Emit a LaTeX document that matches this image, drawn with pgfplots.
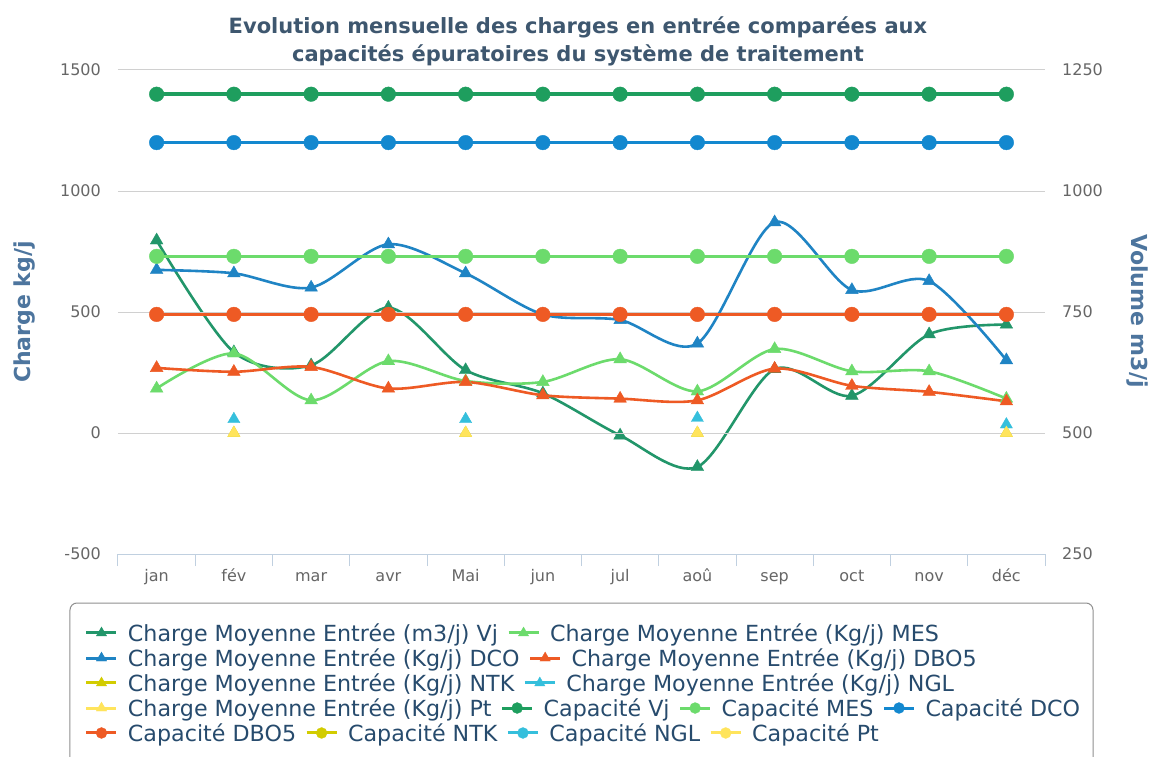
\documentclass[border=0pt]{standalone}
\usepackage{fontspec}
\setmainfont{DejaVu Sans}
\usepackage{pgfplots}
\usepackage{pgfplotstable}
\pgfplotsset{compat=1.18}

\definecolor{cVj}{HTML}{22966A}
\definecolor{cCapVj}{HTML}{1E9E5E}
\definecolor{cMES}{HTML}{6CDB6C}
\definecolor{cDCO}{HTML}{1F84C4}
\definecolor{cCapDCO}{HTML}{1388CF}
\definecolor{cDBO}{HTML}{EE5A24}
\definecolor{cNTK}{HTML}{D2CC00}
\definecolor{cNGL}{HTML}{35BFDC}
\definecolor{cPt}{HTML}{FFE45C}
\definecolor{cTitle}{HTML}{3E576F}
\definecolor{cAxTitle}{HTML}{4D759E}
\definecolor{cTick}{HTML}{666666}
\definecolor{cLeg}{HTML}{274B6D}
\definecolor{cGrid}{HTML}{D0D0D0}
\definecolor{cAxis}{HTML}{C0D0E0}
\definecolor{cBorder}{HTML}{909090}

% Volume (m3/j), right axis
\pgfplotstableread{
x vj capvj
0 898 1200
1 667 1200
2 640 1200
3 759 1200
4 630 1200
5 582 1200
6 495 1200
7 430 1200
8 632 1200
9 577 1200
10 704 1200
11 724 1200
}\tabVol

% Charges (kg/j), left axis
\pgfplotstableread{
x mes dco dbo capmes capdco capdbo
0 184 674 269 730 1200 490
1 329 660 253 730 1200 490
2 135 601 273 730 1200 490
3 297 780 184 730 1200 490
4 215 660 211 730 1200 490
5 211 490 156 730 1200 490
6 305 467 142 730 1200 490
7 172 370 135 730 1200 490
8 347 871 266 730 1200 490
9 255 591 195 730 1200 490
10 255 628 170 730 1200 490
11 142 301 131 730 1200 490
}\tabKg

\pgfplotsset{
  base/.style={scale only axis, width=927pt, height=484pt, xmin=-0.5, xmax=11.5, clip=false},
  charge/.style={line width=2.6pt, smooth, tension=0.5, mark=triangle*, mark size=7.3pt, mark options={solid, line width=0.4pt}},
  capa/.style={line width=3.4pt, mark=*, mark size=7.3pt, mark options={solid, line width=0.4pt}},
  legaxis/.style={hide axis, scale only axis, width=927pt, height=484pt, xmin=0, xmax=1, ymin=0, ymax=1,
    legend columns=-1,
    legend style={anchor=west, draw=none, fill=none, inner sep=0pt, outer sep=0pt,
      font=\color{cLeg}\fontsize{22.2}{25}\selectfont,
      /tikz/every odd column/.append style={column sep=10pt},
      /tikz/every even column/.append style={column sep=9pt},
      nodes={inner sep=0pt}},
    legend cell align=left,
    legend image code/.code={\draw[mark repeat=2, mark phase=2, #1] plot coordinates {(0pt,0pt) (15pt,0pt) (30pt,0pt)};}},
  lc/.style={line width=3pt, mark=triangle*, mark size=6pt, mark options={solid, line width=0.3pt}},
  lk/.style={line width=3pt, mark=*, mark size=5.5pt, mark options={solid, line width=0.3pt}},
}

\begin{document}
\begin{tikzpicture}
\useasboundingbox (-118pt,-202pt) rectangle (1036pt,554pt);
\fill[white] (-118pt,-202pt) rectangle (1036pt,554pt);

% right axis: volumes
\begin{axis}[base,
  ymin=250, ymax=1250,
  ytick={250,500,750,1000,1250}, yticklabels={250,500,750,1000,1250},
  axis x line=none, axis y line*=right,
  y axis line style={draw=none}, ytick style={draw=none}, major tick length=0pt,
  yticklabel style={anchor=west, inner sep=0pt, xshift=17pt, font=\fontsize{16}{16}\selectfont, text=cTick},
]
\addplot[cVj, charge] table[x=x, y=vj] {\tabVol};
\addplot[cCapVj, capa] table[x=x, y=capvj] {\tabVol};
\end{axis}

% left axis: charges
\begin{axis}[base,
  ymin=-500, ymax=1500,
  ytick={-500,0,500,1000,1500}, yticklabels={-500,0,500,1000,1500},
  xtick={0,...,11}, xticklabels={jan,fév,mar,avr,Mai,jun,jul,aoû,sep,oct,nov,déc},
  axis x line*=bottom, axis y line*=left,
  x axis line style={draw=cAxis, line width=1pt, -},
  y axis line style={draw=none},
  ymajorgrids, grid style={cGrid, line width=1pt},
  major tick length=0pt, xtick style={draw=none}, ytick style={draw=none},
  extra x ticks={-0.5,0.5,...,11.5}, extra x tick labels={},
  extra x tick style={major tick length=12pt, tick align=outside, xmajorgrids=false, ymajorgrids=false,
     xtick style={draw=cAxis, line width=1pt}},
  yticklabel style={anchor=east, inner sep=0pt, xshift=-17pt, font=\fontsize{16}{16}\selectfont, text=cTick},
  xticklabel style={anchor=base, inner sep=0pt, yshift=-27pt, font=\fontsize{16}{16}\selectfont, text=cTick},
]
\addplot[cMES, charge] table[x=x, y=mes] {\tabKg};
\addplot[cDCO, charge] table[x=x, y=dco] {\tabKg};
\addplot[cDBO, charge] table[x=x, y=dbo] {\tabKg};
\addplot[cNTK, only marks, mark=triangle*, mark size=7pt] coordinates {(1,0) (4,0) (7,0) (11,0)};
\addplot[cNGL, only marks, mark=triangle*, mark size=7pt] coordinates {(1,57) (4,57) (7,62) (11,35)};
\addplot[cPt, only marks, mark=triangle*, mark size=7pt] coordinates {(1,0) (4,0) (7,0) (11,0)};
\addplot[cMES, capa] table[x=x, y=capmes] {\tabKg};
\addplot[cCapDCO, capa] table[x=x, y=capdco] {\tabKg};
\addplot[cDBO, capa] table[x=x, y=capdbo] {\tabKg};
\end{axis}

% legend rows
\begin{axis}[legaxis, legend style={at={(axis description cs:-0.0356,-0.1632)}}]
\addlegendimage{cVj, lc}\addlegendentry{Charge Moyenne Entrée (m3/j) Vj}
\addlegendimage{cMES, lc}\addlegendentry{Charge Moyenne Entrée (Kg/j) MES}
\end{axis}
\begin{axis}[legaxis, legend style={at={(axis description cs:-0.0356,-0.2149)}}]
\addlegendimage{cDCO, lc}\addlegendentry{Charge Moyenne Entrée (Kg/j) DCO}
\addlegendimage{cDBO, lc}\addlegendentry{Charge Moyenne Entrée (Kg/j) DBO5}
\end{axis}
\begin{axis}[legaxis, legend style={at={(axis description cs:-0.0356,-0.2665)}}]
\addlegendimage{cNTK, lc}\addlegendentry{Charge Moyenne Entrée (Kg/j) NTK}
\addlegendimage{cNGL, lc}\addlegendentry{Charge Moyenne Entrée (Kg/j) NGL}
\end{axis}
\begin{axis}[legaxis, legend style={at={(axis description cs:-0.0356,-0.3182)}}]
\addlegendimage{cPt, lc}\addlegendentry{Charge Moyenne Entrée (Kg/j) Pt}
\addlegendimage{cCapVj, lk}\addlegendentry{Capacité Vj}
\addlegendimage{cMES, lk}\addlegendentry{Capacité MES}
\addlegendimage{cCapDCO, lk}\addlegendentry{Capacité DCO}
\end{axis}
\begin{axis}[legaxis, legend style={at={(axis description cs:-0.0356,-0.3698)}}]
\addlegendimage{cDBO, lk}\addlegendentry{Capacité DBO5}
\addlegendimage{cNTK, lk}\addlegendentry{Capacité NTK}
\addlegendimage{cNGL, lk}\addlegendentry{Capacité NGL}
\addlegendimage{cPt, lk}\addlegendentry{Capacité Pt}
\end{axis}

\draw[cBorder, line width=1pt, rounded corners=7pt] (-48pt,-49pt) rectangle (975pt,-240pt);

\node[font=\fontsize{21}{28.5}\selectfont\bfseries, text=cTitle, align=center] at (460pt,512.5pt)
  {Evolution mensuelle des charges en entrée comparées aux\\capacités épuratoires du système de traitement};
\node[rotate=90, font=\fontsize{22}{22}\selectfont\bfseries, text=cAxTitle] at (-93pt,242pt) {Charge kg/j};
\node[rotate=-90, font=\fontsize{22}{22}\selectfont\bfseries, text=cAxTitle] at (1019pt,243pt) {Volume m3/j};
\end{tikzpicture}
\end{document}
